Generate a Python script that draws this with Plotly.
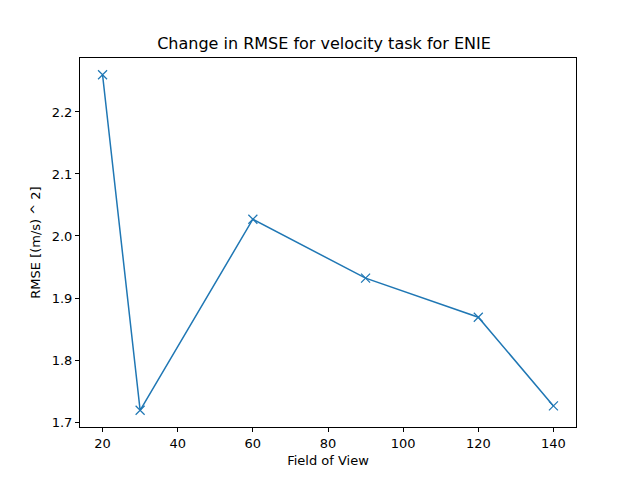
import plotly.graph_objects as go

fov = [20, 30, 60, 90, 120, 140]
rmse = [2.260, 1.719, 2.027, 1.932, 1.869, 1.726]
x_ticks = [20, 40, 60, 80, 100, 120, 140]
y_ticks = [1.7, 1.8, 1.9, 2.0, 2.1, 2.2]

fig = go.Figure()
fig.add_trace(go.Scatter(
    x=fov, y=rmse, mode="lines+markers",
    line=dict(color="#1f77b4", width=1.5),
    marker=dict(symbol="x-thin", size=9, line=dict(color="#1f77b4", width=1.2)),
    showlegend=False,
))

axis_common = dict(
    showgrid=False, zeroline=False, showline=True, linecolor="black", linewidth=1,
    mirror=True, ticks="outside", ticklen=4, tickcolor="black", tickwidth=1,
    tickfont=dict(family="DejaVu Sans", size=13, color="black"),
)

W, H = 632, 472
fig.update_layout(
    width=W, height=H,
    paper_bgcolor="white", plot_bgcolor="white",
    margin=dict(l=72, r=64, t=50, b=53),
    title=dict(text="Change in RMSE for velocity task for ENIE", x=0.5, xanchor="center",
               y=1 - 35/H, yanchor="middle",
               font=dict(family="DejaVu Sans", size=16, color="black")),
    xaxis=dict(range=[14, 146], tickvals=x_ticks, ticktext=[str(v) for v in x_ticks],
               title=dict(text="Field of View", standoff=6,
                          font=dict(family="DejaVu Sans", size=13, color="black")),
               **axis_common),
    yaxis=dict(range=[1.692, 2.287], tickvals=y_ticks, ticktext=[f"{v:.1f}" for v in y_ticks],
               title=dict(text="RMSE [(m/s) ^ 2]", standoff=8,
                          font=dict(family="DejaVu Sans", size=13, color="black")),
               **axis_common),
)

fig.write_html("out.html")
